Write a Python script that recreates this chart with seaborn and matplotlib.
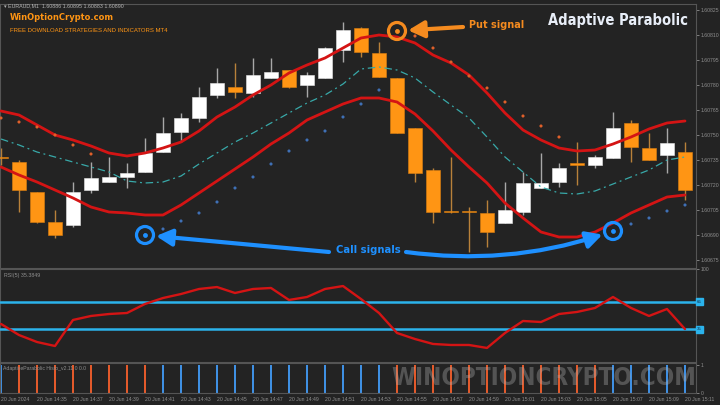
import numpy as np
import pandas as pd
import matplotlib
matplotlib.use("Agg")
import matplotlib.pyplot as plt
import matplotlib.transforms as mtransforms
from matplotlib import font_manager
from matplotlib.font_manager import FontProperties
import seaborn as sns

# ---------------- data: EURAUD M1, 20 Jun 2024, 14:33 .. 15:11 ----------------
minutes = pd.date_range("2024-06-20 14:33", periods=39, freq="min")

opens = [1.60737, 1.60734, 1.60716, 1.60698, 1.60696, 1.60717, 1.60722, 1.60725, 1.60728, 1.60740,
         1.60752, 1.60760, 1.60774, 1.60779, 1.60775, 1.60784, 1.60789, 1.60780, 1.60784, 1.60801,
         1.60814, 1.60799, 1.60784, 1.60754, 1.60729, 1.60704, 1.60704, 1.60703, 1.60697, 1.60704,
         1.60718, 1.60722, 1.60733, 1.60732, 1.60736, 1.60757, 1.60742, 1.60738, 1.60740]
highs = [1.60742, 1.60735, 1.60716, 1.60705, 1.60722, 1.60734, 1.60737, 1.60733, 1.60748, 1.60761,
         1.60763, 1.60779, 1.60790, 1.60793, 1.60796, 1.60796, 1.60789, 1.60788, 1.60803, 1.60818,
         1.60815, 1.60806, 1.60784, 1.60754, 1.60730, 1.60737, 1.60707, 1.60711, 1.60722, 1.60728,
         1.60739, 1.60733, 1.60746, 1.60738, 1.60764, 1.60759, 1.60751, 1.60754, 1.60746]
lows = [1.60732, 1.60704, 1.60697, 1.60688, 1.60695, 1.60715, 1.60722, 1.60718, 1.60728, 1.60740,
        1.60746, 1.60758, 1.60772, 1.60772, 1.60773, 1.60784, 1.60778, 1.60773, 1.60784, 1.60794,
        1.60797, 1.60785, 1.60751, 1.60722, 1.60697, 1.60703, 1.60680, 1.60683, 1.60697, 1.60702,
        1.60718, 1.60719, 1.60720, 1.60730, 1.60736, 1.60734, 1.60735, 1.60727, 1.60711]
closes = [1.60736, 1.60717, 1.60698, 1.60690, 1.60716, 1.60724, 1.60725, 1.60727, 1.60739, 1.60751,
          1.60760, 1.60773, 1.60781, 1.60776, 1.60786, 1.60788, 1.60779, 1.60786, 1.60802, 1.60813,
          1.60800, 1.60785, 1.60751, 1.60727, 1.60704, 1.60704, 1.60704, 1.60692, 1.60705, 1.60721,
          1.60721, 1.60730, 1.60732, 1.60737, 1.60754, 1.60743, 1.60735, 1.60745, 1.60717]

band_upper = [1.607644, 1.607620, 1.607560, 1.607500, 1.607470, 1.607434, 1.607392, 1.607374, 1.607392, 1.607422,
              1.607458, 1.607524, 1.607608, 1.607668, 1.607740, 1.607800, 1.607872, 1.607920, 1.607962, 1.608022,
              1.608082, 1.608100, 1.608088, 1.608052, 1.607980, 1.607932, 1.607860, 1.607752, 1.607632, 1.607530,
              1.607470, 1.607422, 1.607404, 1.607410, 1.607446, 1.607488, 1.607536, 1.607572, 1.607584]
band_middle = [1.607476, 1.607440, 1.607398, 1.607368, 1.607338, 1.607308, 1.607278, 1.607224, 1.607212, 1.607218,
               1.607254, 1.607326, 1.607392, 1.607458, 1.607512, 1.607572, 1.607632, 1.607692, 1.607740, 1.607806,
               1.607896, 1.607908, 1.607890, 1.607842, 1.607758, 1.607680, 1.607602, 1.607488, 1.607368, 1.607278,
               1.607188, 1.607152, 1.607146, 1.607164, 1.607206, 1.607248, 1.607290, 1.607350, 1.607368]
band_lower = [1.607308, 1.607260, 1.607218, 1.607170, 1.607122, 1.607068, 1.607038, 1.607032, 1.607020, 1.607020,
              1.607080, 1.607152, 1.607224, 1.607296, 1.607368, 1.607446, 1.607512, 1.607590, 1.607638, 1.607686,
              1.607722, 1.607722, 1.607698, 1.607626, 1.607524, 1.607410, 1.607308, 1.607212, 1.607092, 1.607002,
              1.606918, 1.606888, 1.606888, 1.606918, 1.606972, 1.607032, 1.607080, 1.607128, 1.607140]

nan = np.nan
sar = [1.607602, 1.607578, 1.607548, 1.607500, 1.607440, 1.607386, nan, nan, 1.606900, 1.606936,
       1.606984, 1.607032, 1.607098, 1.607182, 1.607248, 1.607326, 1.607404, 1.607470, 1.607524, 1.607608,
       1.607686, 1.607770, 1.608124, 1.608094, 1.608022, 1.607938, 1.607854, 1.607782, 1.607698, 1.607614,
       1.607554, 1.607488, nan, nan, 1.606924, 1.606966, 1.607002, 1.607044, 1.607080]
sar_side = ["put"] * 8 + ["call"] * 14 + ["put"] * 12 + ["call"] * 5
call_signals = [8, 34]
put_signals = [22]

rsi = [40.9, 29.0, 21.5, 17.2, 45.2, 49.5, 51.6, 52.7, 62.4, 68.8,
       73.1, 78.5, 80.6, 74.2, 78.5, 79.6, 66.7, 69.9, 78.5, 81.7,
       67.7, 52.7, 31.2, 24.7, 19.4, 18.3, 18.3, 15.1, 31.2, 44.1,
       43.0, 51.6, 53.8, 58.1, 69.9, 58.1, 49.5, 57.0, 35.3849]
rsi_levels = [65, 35]

histo_state = ["call"] + ["put"] * 8 + ["call"] * 13 + ["put"] * 12 + ["call"] * 5

price_ticks = [1.60825, 1.60810, 1.60795, 1.60780, 1.60765, 1.60750,
               1.60735, 1.60720, 1.60705, 1.60690, 1.60675]

# ---------------- style ----------------
BG = "#232323"
EDGE = "#555555"
TXT = "#8f8f8f"
ORANGE = "#ff9514"
ORANGE_WICK = "#b8813a"
WHITE_WICK = "#a8a8a8"
RED = "#d41414"
TEAL = "#38a9a9"
CYAN = "#2bb3ec"
SIG_BLUE = "#1e90ff"
SIG_ORANGE = "#f58b1f"
DOT_BLUE = "#3f70b5"
DOT_ORANGE = "#e0602a"
H_ORANGE = "#e35a2b"
H_BLUE = "#3f90e3"

sns.set_theme(style="dark", rc={
    "figure.facecolor": BG, "axes.facecolor": BG, "axes.edgecolor": EDGE,
    "axes.linewidth": 0.8, "xtick.color": TXT, "ytick.color": TXT,
    "text.color": TXT, "axes.grid": False,
})
plt.rcParams["font.family"] = ["Liberation Sans", "DejaVu Sans"]


def heading_font():
    """Condensed bold face for the display headings; Roboto Bold as the narrow fallback."""
    best, best_score = None, -1
    for f in font_manager.fontManager.ttflist:
        stretch = str(f.stretch).lower()
        narrow = ("condensed" in stretch or "narrow" in f.name.lower()
                  or "condensed" in f.name.lower())
        if not narrow or "italic" in str(f.style).lower() or "oblique" in str(f.style).lower():
            continue
        w = f.weight if isinstance(f.weight, (int, float)) else {"bold": 700, "heavy": 800,
                                                                  "black": 900}.get(str(f.weight).lower(), 400)
        score = 10 - abs(w - 700) / 100
        if score > best_score:
            best, best_score = f, score
    if best is not None:
        return FontProperties(fname=best.fname)
    names = {f.name for f in font_manager.fontManager.ttflist}
    for fam in ("Roboto", "Liberation Sans", "DejaVu Sans"):
        if fam in names:
            return FontProperties(family=fam, weight="bold")
    return FontProperties(weight="bold")


HEAD = heading_font()

W, H = 720, 405
fig = plt.figure(figsize=(W / 100, H / 100), dpi=100)


def px_box(x0, y0, x1, y1):
    return [x0 / W, 1 - y1 / H, (x1 - x0) / W, (y1 - y0) / H]


ax = fig.add_axes(px_box(0, 4, 696, 268))
ax_rsi = fig.add_axes(px_box(0, 269, 696, 362), sharex=ax)
ax_h = fig.add_axes(px_box(0, 363, 696, 393), sharex=ax)

k = np.arange(len(minutes))
df = pd.DataFrame({"k": k, "open": opens, "high": highs, "low": lows, "close": closes,
                   "upper": band_upper, "middle": band_middle, "lower": band_lower,
                   "sar": sar, "side": sar_side})

# ---------------- candles ----------------
bull = df["close"] > df["open"]
body_low = np.minimum(df["open"], df["close"])
body_h = np.maximum((df["close"] - df["open"]).abs(), 0.0000045)
ax.vlines(df["k"], df["low"], df["high"],
          colors=np.where(bull, WHITE_WICK, ORANGE_WICK), lw=1.0, zorder=2)
ax.bar(df["k"], body_h, bottom=body_low, width=0.8,
       color=np.where(bull, "#ffffff", ORANGE), edgecolor=np.where(bull, "#e8e8e8", "#e08010"),
       linewidth=0.4, zorder=3)

# ---------------- channel lines ----------------
sns.lineplot(data=df, x="k", y="upper", ax=ax, color=RED, lw=2.0, zorder=4)
sns.lineplot(data=df, x="k", y="lower", ax=ax, color=RED, lw=2.0, zorder=4)
sns.lineplot(data=df, x="k", y="middle", ax=ax, color=TEAL, lw=0.9,
             linestyle=(0, (6, 3, 1.5, 3)), zorder=4)

# parabolic dots
sns.scatterplot(data=df.dropna(subset=["sar"]), x="k", y="sar", hue="side",
                palette={"call": DOT_BLUE, "put": DOT_ORANGE}, s=5, linewidth=0,
                legend=False, ax=ax, zorder=5)

# signal rings
sig = df.loc[call_signals + put_signals].copy()
sig["kind"] = ["call"] * len(call_signals) + ["put"] * len(put_signals)
ring_pal = {"call": SIG_BLUE, "put": SIG_ORANGE}
for kind, grp in sig.groupby("kind"):
    ax.scatter(grp["k"], grp["sar"], s=150, facecolors="none",
               edgecolors=ring_pal[kind], linewidths=2.3, zorder=6)
    ax.scatter(grp["k"], grp["sar"], s=12, color=ring_pal[kind], linewidths=0, zorder=6)

arrow_kw = dict(arrowstyle="-|>,head_length=0.95,head_width=0.5", lw=3.0,
                mutation_scale=10, shrinkA=0)

fits = []  # (text artist, wanted width in px)

# put-signal callout
kp = put_signals[0]
ax.annotate("", xy=(kp, sar[kp]), xytext=(66, 4), textcoords="offset pixels",
            arrowprops=dict(color=SIG_ORANGE, shrinkB=8, **arrow_kw), zorder=7)
t = ax.annotate("Put signal", xy=(kp, sar[kp]), xytext=(72, 6), textcoords="offset pixels",
                ha="left", va="center", color=SIG_ORANGE, fontproperties=HEAD, zorder=7)
t.set_fontsize(10)
fits.append((t, 54))

# call-signal callouts
k1, k2 = call_signals
ax.annotate("", xy=(k1, sar[k1]), xytext=(184, -17), textcoords="offset pixels",
            arrowprops=dict(color=SIG_BLUE, shrinkB=8, **arrow_kw), zorder=7)
ax.annotate("", xy=(k2, sar[k2]), xytext=(-207, -21), textcoords="offset pixels",
            arrowprops=dict(color=SIG_BLUE, shrinkB=8, connectionstyle="arc3,rad=0.12",
                            **arrow_kw), zorder=7)
t = ax.annotate("Call signals", xy=(k1, sar[k1]), xytext=(191, -15), textcoords="offset pixels",
                ha="left", va="center", color=SIG_BLUE, fontproperties=HEAD, zorder=7)
t.set_fontsize(10.5)
fits.append((t, 65))

# axes limits / ticks
xmin, xmax = -1 / 18, 695 / 18
ax.set_xlim(xmin, xmax)
ax.set_ylim(1.6067020, 1.6082860)
ax.yaxis.tick_right()
ax.set_yticks(price_ticks)
ax.set_yticklabels([f"{p:.5f}" for p in price_ticks])
ax.tick_params(axis="y", labelsize=3.7, length=2, width=0.6, pad=1.5, colors=TXT)
ax.tick_params(axis="x", bottom=False, labelbottom=False)
ax.set_xlabel("")
ax.set_ylabel("")

# ---------------- RSI panel ----------------
sns.lineplot(x=k, y=rsi, ax=ax_rsi, color=RED, lw=1.7, zorder=4)
for lvl in rsi_levels:
    ax_rsi.axhline(lvl, color=CYAN, lw=1.8, zorder=3)
    ax_rsi.text(1.0015, lvl, str(lvl), transform=mtransforms.blended_transform_factory(
        ax_rsi.transAxes, ax_rsi.transData), fontsize=3.2, color="#10324d", va="center",
        ha="left", bbox=dict(boxstyle="square,pad=0.3", fc=CYAN, ec=CYAN))
ax_rsi.set_ylim(0, 100)
ax_rsi.yaxis.tick_right()
ax_rsi.set_yticks([100])
ax_rsi.set_yticklabels(["100"])
ax_rsi.tick_params(axis="y", labelsize=3.7, length=2, width=0.6, pad=1.5, colors=TXT)
ax_rsi.tick_params(axis="x", bottom=False, labelbottom=False)
ax_rsi.text(0.006, 0.93, f"RSI(5) {rsi[-1]:.4f}", transform=ax_rsi.transAxes,
            fontsize=3.8, color=TXT, va="center", ha="left")
ax_rsi.set_ylabel("")

# ---------------- histogram panel ----------------
ax_h.bar(k, 1.0, width=0.11, color=[H_ORANGE if s == "put" else H_BLUE for s in histo_state],
         linewidth=0, zorder=2)
ax_h.set_ylim(0, 1.07)
ax_h.yaxis.tick_right()
ax_h.set_yticks([0, 1])
ax_h.set_yticklabels(["0", "1"])
ax_h.tick_params(axis="y", labelsize=3.6, length=2, width=0.6, pad=1.5, colors=TXT)
ax_h.text(0.005, 0.83, "AdaptiveParabolic Histo_v2.11 0 0.0", transform=ax_h.transAxes,
          fontsize=3.7, color=TXT, va="center", ha="left", zorder=3)

tick_k = k[::2]
tick_lab = ["20 Jun 2024"] + [f"20 Jun {minutes[i]:%H:%M}" for i in tick_k[1:]]
ax_h.set_xticks(tick_k)
ax_h.set_xticklabels(tick_lab)
ax_h.tick_params(axis="x", labelsize=3.7, length=2, width=0.6, pad=1.2, colors=TXT)
for lab in ax_h.get_xticklabels():
    lab.set_ha("left")
ax_h.set_xlim(xmin, xmax)

for a in (ax, ax_rsi, ax_h):
    for sp in a.spines.values():
        sp.set_color(EDGE)
        sp.set_linewidth(0.8)

# ---------------- headings ----------------
fig.text(4 / W, 1 - 6 / H, "\u25be EURAUD,M1  1.60886 1.60895 1.60883 1.60890",
         fontsize=3.8, color="#b5b5b5", va="center", ha="left")
t = fig.text(10 / W, 1 - 18 / H, "WinOptionCrypto.com", fontproperties=HEAD,
             color=ORANGE, va="center", ha="left")
t.set_fontsize(10.5)
fits.append((t, 103))
t = fig.text(10 / W, 1 - 30 / H, "FREE DOWNLOAD STRATEGIES AND INDICATORS MT4", fontsize=4.4,
             color=ORANGE, va="center", ha="left")
fits.append((t, 156))
t = fig.text(688 / W, 1 - 21 / H, "Adaptive Parabolic", fontproperties=HEAD,
             color="#e8eef8", va="center", ha="right")
t.set_fontsize(13.5)
fits.append((t, 140))
t = fig.text(544 / W, 1 - 378 / H, "WINOPTIONCRYPTO.COM", fontproperties=HEAD,
             color="#b0b0b0", alpha=0.35, va="center", ha="center", zorder=10)
t.set_fontsize(21)
fits.append((t, 304))

# size the headings to their intended widths
fig.canvas.draw()
renderer = fig.canvas.get_renderer()
for _ in range(2):
    for txt, width in fits:
        bb = txt.get_window_extent(renderer)
        if bb.width > 0:
            txt.set_fontsize(txt.get_fontsize() * width / bb.width)
    fig.canvas.draw()

fig.savefig("out.png", dpi=100, facecolor=BG)
